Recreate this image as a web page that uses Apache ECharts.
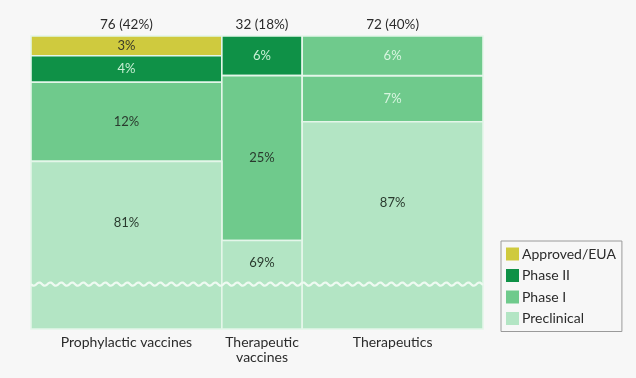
<!DOCTYPE html>
<html><head><meta charset="utf-8">
<script src="https://cdn.jsdelivr.net/npm/echarts@6/dist/echarts.min.js"></script>
<style>html,body{margin:0;padding:0;background:#f7f7f7}#c{width:636px;height:378px}</style>
</head><body><div id="c"></div>
<script>
const categories = ['Prophylactic vaccines', 'Therapeutic\nvaccines', 'Therapeutics'];
const counts = [76, 32, 72];
const preclinical = [81, 69, 87];
const phase1 = [12, 25, 7];
const phase1Upper = [0, 0, 6];
const phase2 = [4, 6, 0];
const approved = [3, 0, 0];
const stageNames = ['Approved/EUA', 'Phase II', 'Phase I', 'Preclinical'];
const yMin = 55.6, yMax = 100, breakAt = 62.4;

const colors = {
  'Approved/EUA': '#cfca3e',
  'Phase II': '#0f9147',
  'Phase I': '#6fca8c',
  'Preclinical': '#b3e5c4'
};
const FONT = 'Lato, "Noto Sans", sans-serif';
const total = counts.reduce((a, b) => a + b, 0);
const xStarts = counts.map((c, i) => counts.slice(0, i).reduce((a, b) => a + b, 0));

// build stacked segments: [x0, x1, y0, y1, value, colIndex, isBottom]
const segs = { 'Preclinical': [], 'Phase I': [], 'Phase II': [], 'Approved/EUA': [] };
counts.forEach((c, i) => {
  let base = 0;
  const layers = [
    ['Preclinical', preclinical[i]],
    ['Phase I', phase1[i]],
    ['Phase I', phase1Upper[i]],
    ['Phase II', phase2[i]],
    ['Approved/EUA', approved[i]]
  ];
  layers.forEach(([name, v], k) => {
    if (v > 0) {
      segs[name].push([xStarts[i], xStarts[i] + c, base, base + v, v, i, k === 0 ? 1 : 0]);
      base += v;
    }
  });
});

const labelColor = {
  'Approved/EUA': () => '#3a3a2a',
  'Phase II': () => '#c9f0d5',
  'Phase I': (col) => col === 2 ? '#d8f5e0' : '#2a3a2e',
  'Preclinical': () => '#2a3a2e'
};

function makeRender(name) {
  return function (params, api) {
    const cs = params.coordSys;
    const x0 = api.value(0), x1 = api.value(1), y0 = api.value(2), y1 = api.value(3);
    const v = api.value(4), col = api.value(5), isBottom = api.value(6);
    const p0 = api.coord([x0, y1]);
    const p1 = api.coord([x1, y0]);
    const top = Math.max(p0[1], cs.y);
    const bot = Math.min(p1[1], cs.y + cs.height);
    let ly = (top + bot) / 2;
    if (isBottom) {
      const by = api.coord([x0, breakAt])[1];
      ly = (top + by) / 2;
    }
    return {
      type: 'group',
      children: [
        { type: 'rect', shape: { x: p0[0], y: top, width: p1[0] - p0[0], height: bot - top },
          style: { fill: api.visual('color'), stroke: '#e4f6e9', lineWidth: 1.6 } },
        { type: 'text', x: (p0[0] + p1[0]) / 2, y: ly,
          style: { text: v + '%', fill: labelColor[name](col), font: '13px ' + FONT,
            align: 'center', verticalAlign: 'middle' } }
      ]
    };
  };
}

const stageSeries = stageNames.map(name => ({
  name: name,
  type: 'custom',
  coordinateSystem: 'cartesian2d',
  itemStyle: { color: colors[name] },
  renderItem: makeRender(name),
  encode: { x: [0, 1], y: [2, 3] },
  data: segs[name],
  z: 2
}));

const breakSeries = {
  type: 'custom',
  silent: true,
  z: 5,
  renderItem: function (params, api) {
    const cs = params.coordSys;
    const y = api.coord([0, api.value(0)])[1];
    const pts = [];
    for (let x = cs.x; x <= cs.x + cs.width; x += 1) {
      pts.push([x, y + 1.6 * Math.sin((x - cs.x) / 11 * 2 * Math.PI)]);
    }
    return { type: 'polyline', shape: { points: pts },
      style: { stroke: '#eefaf1', lineWidth: 2.2, fill: null } };
  },
  data: [[breakAt]]
};

const annotSeries = {
  type: 'custom',
  silent: true,
  z: 6,
  clip: false,
  renderItem: function (params, api) {
    const cs = params.coordSys;
    const i = params.dataIndex;
    const cx = api.coord([xStarts[i] + counts[i] / 2, yMax])[0];
    return {
      type: 'group',
      children: [
        { type: 'text', x: cx, y: cs.y - 11,
          style: { text: counts[i] + ' (' + Math.round(counts[i] / total * 100) + '%)',
            fill: '#2b2b2b', font: '13.5px ' + FONT, align: 'center', verticalAlign: 'middle' } },
        { type: 'text', x: cx, y: cs.y + cs.height + 6,
          style: { text: categories[i], fill: '#2b2b2b', font: '14px ' + FONT,
            lineHeight: 15, align: 'center', verticalAlign: 'top' } }
      ]
    };
  },
  data: counts.map((c, i) => [xStarts[i] + c / 2, yMax])
};

const chart = echarts.init(document.getElementById('c'), null, { renderer: 'canvas' });
chart.setOption({
  backgroundColor: '#f7f7f7',
  animation: false,
  grid: { left: 31, right: 153, top: 36, bottom: 49 },
  xAxis: { type: 'value', min: 0, max: total, show: false },
  yAxis: { type: 'value', min: yMin, max: yMax, show: false },
  legend: {
    orient: 'vertical',
    left: 501, top: 241,
    data: stageNames.map(n => ({ name: n, icon: 'rect' })),
    itemWidth: 13, itemHeight: 13, itemGap: 7.5,
    padding: [6, 6, 6, 5],
    borderColor: '#9a9a9a', borderWidth: 1,
    textStyle: { fontFamily: FONT, fontSize: 14, color: '#2b2b2b', padding: [0, 0, 0, -2] },
    selectedMode: false
  },
  series: [...stageSeries, breakSeries, annotSeries]
});
</script>
</body></html>
